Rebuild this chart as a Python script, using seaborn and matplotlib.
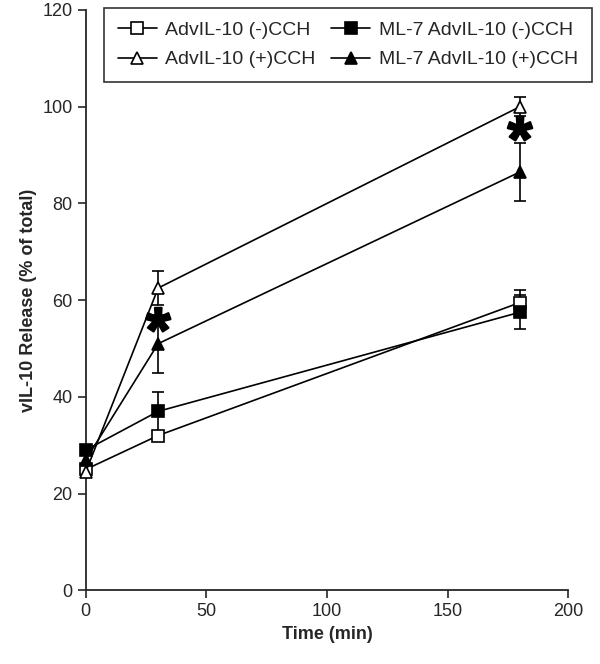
import numpy as np
import pandas as pd
import matplotlib
matplotlib.use("Agg")
import matplotlib.pyplot as plt
import matplotlib.patheffects as pe
import seaborn as sns

# data
time = [0, 30, 180]
adv_minus = [25, 32, 59.5]
adv_minus_err = [1.0, 1.0, 2.5]
ml7_minus = [29, 37, 57.5]
ml7_minus_err = [1.0, 4.0, 3.5]
adv_plus = [24.5, 62.5, 100]
adv_plus_err = [1.0, 3.5, 2.0]
ml7_plus = [27, 51, 86.5]
ml7_plus_err = [1.0, 6.0, 6.0]
star_x = [30, 180]
star_y = [56, 95.5]

series = [
    ("AdvIL-10 (-)CCH", adv_minus, adv_minus_err, "s", "white"),
    ("AdvIL-10 (+)CCH", adv_plus, adv_plus_err, "^", "white"),
    ("ML-7 AdvIL-10 (-)CCH", ml7_minus, ml7_minus_err, "s", "black"),
    ("ML-7 AdvIL-10 (+)CCH", ml7_plus, ml7_plus_err, "^", "black"),
]

rows = []
for name, vals, errs, _, _ in series:
    for t, v, e in zip(time, vals, errs):
        rows.append({"time": t, "value": v, "err": e, "group": name})
df = pd.DataFrame(rows)

sns.set_style("ticks")
plt.rcParams["font.family"] = ["Liberation Sans", "DejaVu Sans"]

fig, ax = plt.subplots(figsize=(6, 6.64), dpi=100)
fig.subplots_adjust(left=0.143, right=0.947, bottom=0.111, top=0.985)

for name, vals, errs, marker, face in series:
    sub = df[df["group"] == name]
    ax.errorbar(sub["time"], sub["value"], yerr=sub["err"], fmt="none",
                ecolor="black", elinewidth=1.2, capsize=4, capthick=1.2,
                clip_on=False, zorder=2)
    sns.lineplot(data=sub, x="time", y="value", ax=ax, color="black",
                 linewidth=1.2, marker=marker, markersize=9,
                 markerfacecolor=face, markeredgecolor="black",
                 markeredgewidth=1.2, label=name, clip_on=False, zorder=3)

# significance asterisks (glyph sits high in its box, so nudge it down)
for sx, sy in zip(star_x, star_y):
    ax.annotate("*", xy=(sx, sy), xytext=(0, -11), textcoords="offset points",
                fontsize=46, fontweight="bold", ha="center", va="center",
                color="black", zorder=4,
                path_effects=[pe.withStroke(linewidth=1.5, foreground="black")])

ax.set_xlim(0, 200)
ax.set_ylim(0, 120)
ax.set_xticks([0, 50, 100, 150, 200])
ax.set_yticks(range(0, 121, 20))
ax.tick_params(direction="out", length=6, width=1.2, labelsize=13)
for s in ["left", "bottom"]:
    ax.spines[s].set_linewidth(1.3)
sns.despine(ax=ax)
ax.set_xlabel("Time (min)", fontsize=13, fontweight="bold")
ax.set_ylabel("vIL-10 Release (% of total)", fontsize=13, fontweight="bold")

leg = ax.legend(loc="upper left", bbox_to_anchor=(104 / 600, 1 - 8 / 664),
                bbox_transform=fig.transFigure, ncol=2, fontsize=14,
                frameon=True, fancybox=False, edgecolor="black",
                handlelength=2.0, columnspacing=0.8, borderaxespad=0,
                handletextpad=0.45, labelspacing=0.6, borderpad=0.7)
leg.get_frame().set_linewidth(1.2)

fig.savefig("out.png", dpi=100)
